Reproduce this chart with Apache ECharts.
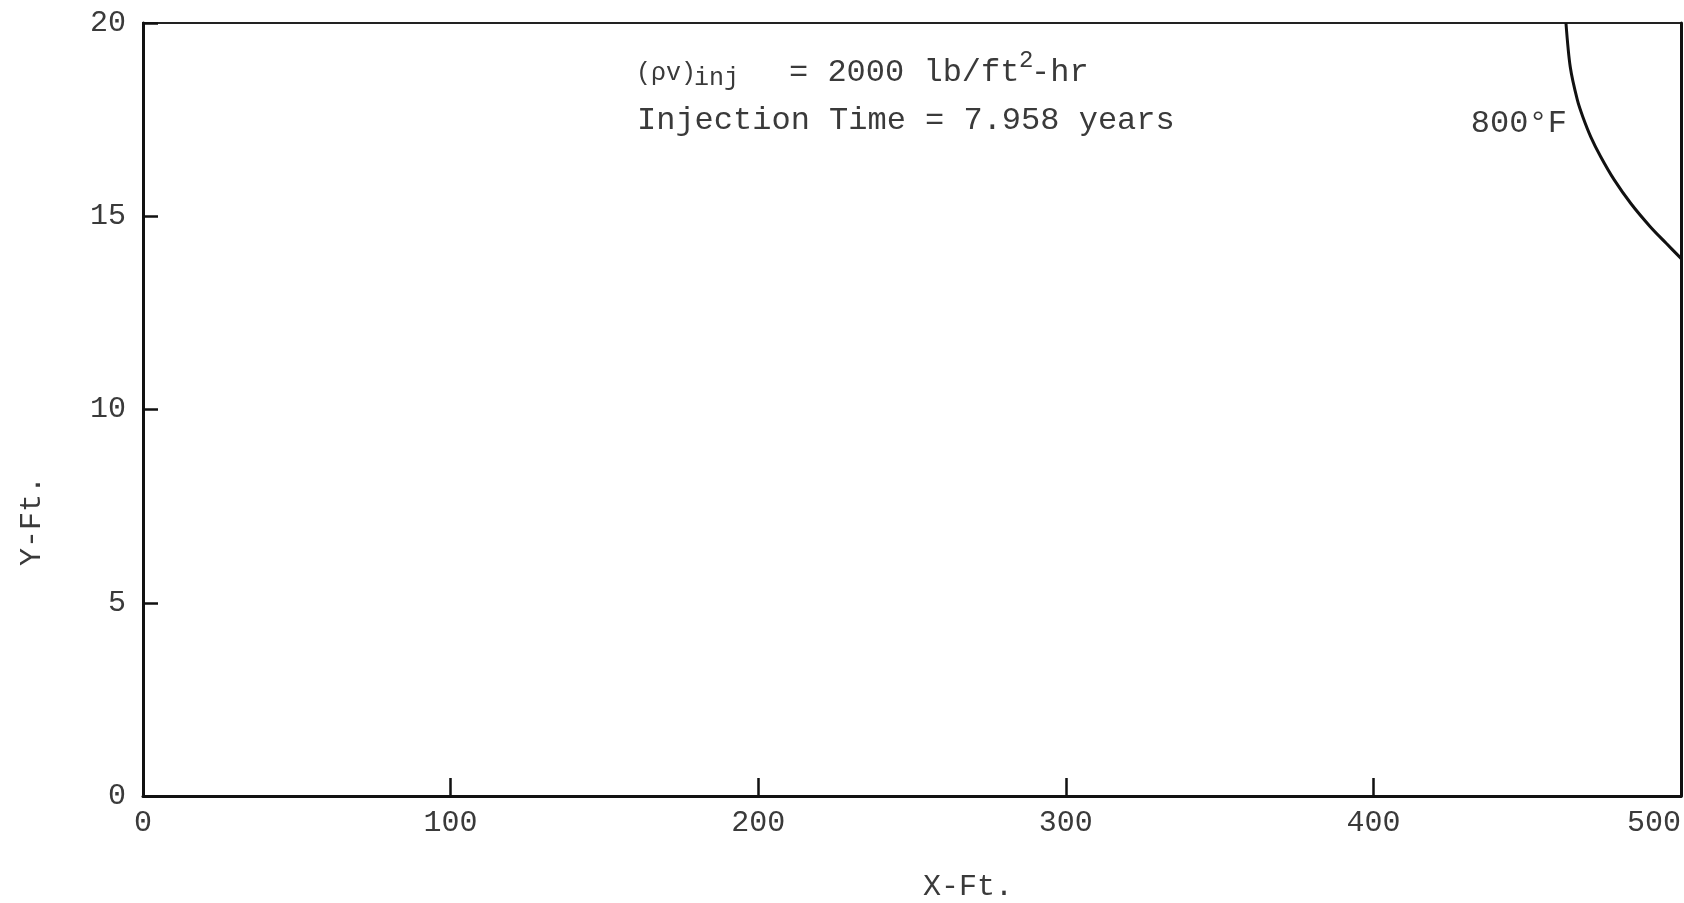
<!DOCTYPE html>
<html>
<head>
<meta charset="utf-8">
<script src="https://cdn.jsdelivr.net/npm/echarts@6/dist/echarts.min.js"></script>
<style>
html,body{margin:0;padding:0;background:#fff;}
#chart{width:1684px;height:903px;}
</style>
</head>
<body>
<div id="chart"></div>
<script>
// Data
const xTicks = [0, 100, 200, 300, 400, 500];
const yTicks = [0, 5, 10, 15, 20];
const isoX = [462.6, 464.0, 466.3, 468.1, 470.7, 473.9, 478.3, 483.7, 490.0, 495.2, 500];
const isoY = [20, 18.86, 18.01, 17.57, 17.05, 16.54, 15.94, 15.33, 14.73, 14.30, 13.91];
const isoLabel = '800°F';
const isoLabelIndex = 4;
const xName = 'X-Ft.';
const yName = 'Y-Ft.';
const noteRho = '(ρv)';
const noteSub = 'inj';
const noteRate = '= 2000 lb/ft';
const noteSup = '2';
const noteUnit = '-hr';
const noteTime = 'Injection Time = 7.958 years';

const FONT = 'Liberation Mono';
const TXT = '#3a3a3a';
const f = (s) => s + 'px "' + FONT + '"';

const chart = echarts.init(document.getElementById('chart'), null, {renderer: 'canvas'});

const curve = isoX.map((x, i) => [x, isoY[i]]);

const option = {
  backgroundColor: '#fff',
  animation: false,
  grid: {left: 143, right: 3, top: 23, bottom: 107, show: true, borderColor: '#222', borderWidth: 2, containLabel: false},
  xAxis: {
    type: 'value', min: xTicks[0], max: xTicks[xTicks.length - 1], interval: 100,
    axisLine: {show: true, onZero: false, lineStyle: {color: '#111', width: 3}},
    axisTick: {show: true, inside: true, length: 18, lineStyle: {color: '#111', width: 2.5}},
    splitLine: {show: false},
    axisLabel: {fontFamily: FONT, fontSize: 30, color: TXT, margin: 12, alignMaxLabel: 'right'}
  },
  yAxis: [{
    type: 'value', min: yTicks[0], max: yTicks[yTicks.length - 1], interval: 5,
    axisLine: {show: true, onZero: false, lineStyle: {color: '#111', width: 3}},
    axisTick: {show: true, inside: true, length: 15, lineStyle: {color: '#111', width: 2.5}},
    splitLine: {show: false},
    axisLabel: {fontFamily: FONT, fontSize: 30, color: TXT, margin: 17}
  }, {
    type: 'value', position: 'right', min: yTicks[0], max: yTicks[yTicks.length - 1], interval: 5,
    axisLine: {show: true, onZero: false, lineStyle: {color: '#111', width: 3}},
    axisTick: {show: false}, axisLabel: {show: false}, splitLine: {show: false}
  }],
  series: [{
    type: 'line', data: curve, smooth: 0.3, showSymbol: false, symbol: 'none',
    lineStyle: {color: '#111', width: 3}, clip: false,
    markPoint: {
      symbol: 'circle', symbolSize: 0, silent: true,
      data: [{
        coord: [isoX[isoLabelIndex], isoY[isoLabelIndex]],
        label: {show: true, formatter: isoLabel, position: 'left', distance: 24, offset: [0, -13],
                fontFamily: FONT, fontSize: 32, color: TXT}
      }]
    }
  }],
  graphic: [
    {type: 'text', left: 636, top: 61, style: {text: noteRho, font: f(25), fill: TXT}},
    {type: 'text', left: 694, top: 66, style: {text: noteSub, font: f(25), fill: TXT}},
    {type: 'text', left: 789, top: 57, style: {text: noteRate, font: f(32), fill: TXT}},
    {type: 'text', left: 1019, top: 49, style: {text: noteSup, font: f(24), fill: TXT}},
    {type: 'text', left: 1031, top: 57, style: {text: noteUnit, font: f(32), fill: TXT}},
    {type: 'text', left: 637, top: 105, style: {text: noteTime, font: f(32), fill: TXT}},
    {type: 'text', left: 923, top: 872, style: {text: xName, font: f(30), fill: TXT}},
    {type: 'text', x: 32, y: 521, rotation: Math.PI / 2, style: {text: yName, font: f(30), fill: TXT, align: 'center', verticalAlign: 'middle'}}
  ]
};
chart.setOption(option);
</script>
</body>
</html>
